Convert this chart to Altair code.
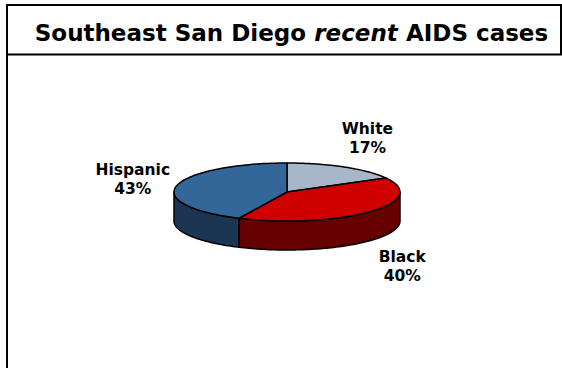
import numpy as np
import pandas as pd
import altair as alt

# ---- data ----
categories = ["White", "Black", "Hispanic"]
shares = [17, 40, 43]
title_parts = ["Southeast San Diego", "recent", "AIDS cases"]

# ---- styles / geometry ----
top_colors = ["#A7B6C9", "#D00000", "#336699"]
side_colors = ["#7E8A99", "#660000", "#1C3553"]
W, H = 562, 368
CX, CY, RX, RY, DEPTH = 287, 192, 113, 29, 29
LX, LY = 158, 64
FONT = "DejaVu Sans"

total = float(sum(shares))
top_rows, wall_rows, label_rows = [], [], []
start = 0.0
for cat, v in zip(categories, shares):
    end = start + v / total * 360.0
    angs = np.radians(np.linspace(start, end, 80))
    pts = [(CX, CY)] + [(CX + RX * np.sin(a), CY - RY * np.cos(a)) for a in angs] + [(CX, CY)]
    for i, (x, y) in enumerate(pts):
        top_rows.append({"slice": cat, "order": i, "x": x, "y": y})
    a0, a1 = max(start, 90.0), min(end, 270.0)
    if a0 < a1:
        wa = np.radians(np.linspace(a0, a1, 80))
        upper = [(CX + RX * np.sin(a), CY - RY * np.cos(a)) for a in wa]
        lower = [(x, y + DEPTH) for (x, y) in upper[::-1]]
        poly = upper + lower + [upper[0]]
        for i, (x, y) in enumerate(poly):
            wall_rows.append({"wall": cat, "order": i, "x": x, "y": y})
    mid = np.radians((start + end) / 2)
    ly = CY - LY * np.cos(mid)
    if np.cos(mid) < 0:
        ly += DEPTH
    label_rows.append({"key": cat, "x": CX + LX * np.sin(mid), "y": ly,
                       "text": f"{cat}\n{v}%"})
    start = end

top_df = pd.DataFrame(top_rows)
wall_df = pd.DataFrame(wall_rows)
label_df = pd.DataFrame(label_rows)

xs = alt.X("x:Q", scale=alt.Scale(domain=[0, W], nice=False, zero=False), axis=None)
ys = alt.Y("y:Q", scale=alt.Scale(domain=[0, H], nice=False, zero=False, reverse=True), axis=None)

walls = alt.Chart(wall_df).mark_line(stroke="black", strokeWidth=1.5, strokeJoin="round").encode(
    x=xs, y=ys, order="order:Q", detail="wall:N",
    fill=alt.Fill("wall:N", scale=alt.Scale(domain=categories, range=side_colors), legend=None),
)
tops = alt.Chart(top_df).mark_line(stroke="black", strokeWidth=1.5, strokeJoin="round").encode(
    x=xs, y=ys, order="order:Q", detail="slice:N",
    fill=alt.Fill("slice:N", scale=alt.Scale(domain=categories, range=top_colors), legend=None),
)
labels = alt.Chart(label_df).mark_text(
    font=FONT, fontSize=15.5, fontWeight="bold", color="black", lineBreak="\n",
    lineHeight=19, align="center", baseline="middle", dy=-8
).encode(x=xs, y=ys, text="text:N")

# frame
def rule(x1, x2, y1, y2, w=2):
    return alt.Chart(pd.DataFrame({"a": [0]})).mark_rule(color="black", strokeWidth=w).encode(
        x=alt.value(x1), x2=alt.value(x2), y=alt.value(y1), y2=alt.value(y2))

frame = rule(7, 7, 4, H) + rule(6, W, 5, 5) + rule(6, W, 54.5, 54.5) + rule(561, 561, 4, 55)

def title_text(txt, x, align, style="normal"):
    return alt.Chart(pd.DataFrame({"t": [txt]})).mark_text(
        font=FONT, fontSize=23, fontWeight="bold", fontStyle=style, color="black",
        align=align, baseline="alphabetic"
    ).encode(x=alt.value(x), y=alt.value(41), text="t:N")

title = (title_text(title_parts[0], 306, "right")
         + title_text(title_parts[1], 356, "center", "italic")
         + title_text(title_parts[2], 406, "left"))

chart = alt.layer(walls, tops, labels, frame, title).resolve_scale(fill="independent").properties(
    width=W, height=H, padding=0, autosize=alt.AutoSizeParams(type="none"),
    background="white",
).configure_view(stroke=None)

chart.save("out.html", embed_options={"renderer": "svg", "actions": False})
